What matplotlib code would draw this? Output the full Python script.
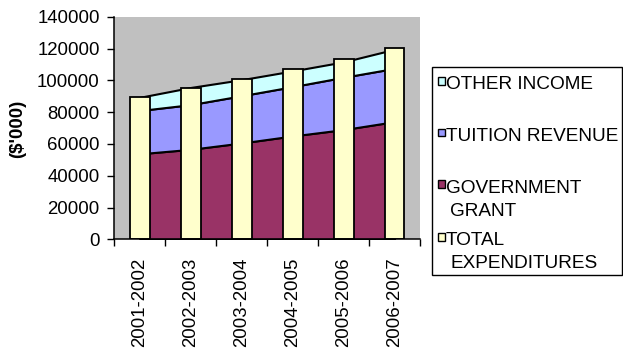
import numpy as np
import matplotlib
matplotlib.use("Agg")
import matplotlib.pyplot as plt
from matplotlib.patches import Rectangle

plt.rcParams["font.family"] = ["Liberation Sans", "DejaVu Sans"]

# ---- data ----
years = ["2001-2002", "2002-2003", "2003-2004", "2004-2005", "2005-2006", "2006-2007"]
government_grant = [53800, 56600, 60600, 65000, 69000, 74000]
tuition_revenue = [27200, 28100, 29700, 31000, 32900, 33500]
other_income = [8300, 10800, 10100, 9900, 9700, 12000]
total_expenditures = [89300, 95000, 100600, 106900, 113200, 120100]

legend_labels = ["OTHER INCOME", "TUITION REVENUE", "GOVERNMENT\nGRANT", "TOTAL\nEXPENDITURES"]

C_OTHER = "#CCFFFF"
C_TUITION = "#9999FF"
C_GOV = "#993366"
C_EXP = "#FFFFCC"

W, H = 623, 351
FS = 13.4

fig = plt.figure(figsize=(W / 100, H / 100), dpi=100)
ax = fig.add_axes([114.3 / W, 1 - 239.3 / H, 305.7 / W, 222.6 / H])
ax.set_facecolor("#C0C0C0")

x = np.arange(len(years))
ax.stackplot(x, government_grant, tuition_revenue, other_income,
             colors=[C_GOV, C_TUITION, C_OTHER],
             edgecolor="black", linewidth=1.5, zorder=2)
ax.bar(x, total_expenditures, width=0.39, color=C_EXP,
       edgecolor="black", linewidth=1.3, zorder=3)

ax.set_xlim(-0.5, len(years) - 0.5)
ax.set_ylim(0, 140000)
ax.set_yticks(np.arange(0, 140001, 20000))
ax.tick_params(axis="y", labelsize=FS, length=5, width=1, pad=5.5, direction="out")

# category boundary ticks, labels at centres
ax.set_xticks(np.arange(-0.5, len(years), 1))
ax.set_xticklabels([])
ax.tick_params(axis="x", which="major", length=5, width=1, direction="out")
ax.set_xticks(x, minor=True)
ax.set_xticklabels(years, minor=True, rotation=90, fontsize=FS)
ax.tick_params(axis="x", which="minor", length=0, pad=13)

for s in ["top", "right"]:
    ax.spines[s].set_visible(False)
for s in ["left", "bottom"]:
    ax.spines[s].set_linewidth(1.1)
    ax.spines[s].set_zorder(5)

fig.text(17.5 / W, 1 - 129 / H, "($'000)", rotation=90, fontsize=FS,
         fontweight="bold", ha="center", va="center")

# ---- legend drawn by hand (Excel-style uneven spacing) ----
def fx(px):
    return px / W

def fy(py):
    return 1 - py / H

fig.add_artist(Rectangle((fx(431.7), fy(275)), fx(621.5) - fx(431.7), fy(66.7) - fy(275),
                         transform=fig.transFigure, facecolor="white",
                         edgecolor="black", linewidth=1))
entry_colors = [C_OTHER, C_TUITION, C_GOV, C_EXP]
baselines = [89.3, 141, 192.7, 245]
line_step = 23.3
for lab, col, bl in zip(legend_labels, entry_colors, baselines):
    fig.add_artist(Rectangle((fx(437.5), fy(bl - 4.5)), 7.7 / W, 7.7 / H,
                             transform=fig.transFigure, facecolor=col,
                             edgecolor="black", linewidth=1))
    for i, line in enumerate(lab.split("\n")):
        xpos = 446 if i == 0 else 450
        fig.text(fx(xpos), fy(bl + i * line_step), line, fontsize=FS + 0.3,
                 ha="left", va="baseline")

fig.savefig("out.png", dpi=100)
